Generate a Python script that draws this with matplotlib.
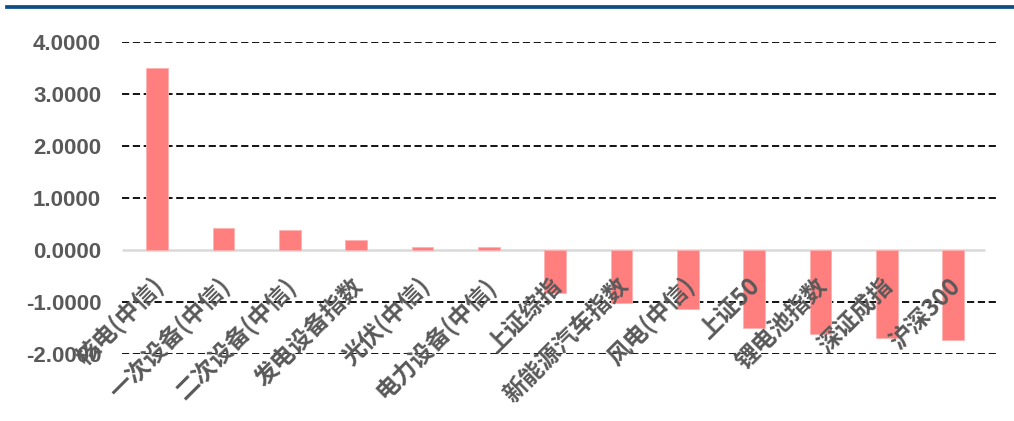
import matplotlib
matplotlib.use("Agg")
import matplotlib.pyplot as plt
import matplotlib.transforms as mtransforms
from matplotlib.lines import Line2D

categories = ["核电(中信)", "一次设备(中信)", "二次设备(中信)", "发电设备指数", "光伏(中信)",
              "电力设备(中信)", "上证综指", "新能源汽车指数", "风电(中信)", "上证50",
              "锂电池指数", "深证成指", "沪深300"]
values = [3.49, 0.42, 0.38, 0.20, 0.05, 0.05, -0.83, -1.02, -1.13, -1.50, -1.61, -1.69, -1.72]
yticks = [-2, -1, 0, 1, 2, 3, 4]

plt.rcParams['font.family'] = ['Noto Sans CJK SC', 'DejaVu Sans']
GRAY = "#595959"

fig = plt.figure(figsize=(10.14, 4.21), dpi=100)
ax = fig.add_axes([122/1014, 1 - 354.3/421, 875/1014, 312.6/421])

x = list(range(len(categories)))
ax.bar(x, values, width=0.33, color="#FF7F7F", edgecolor="#FFB3B3", linewidth=0.6, zorder=3)

ax.set_xlim(-0.53, 12.66)
ax.set_ylim(-2, 4)
ax.set_yticks(yticks)
ax.set_yticklabels([f"{v:.4f}" for v in yticks], fontfamily="Liberation Sans",
                   fontweight="bold", fontsize=16, color=GRAY)
ax.tick_params(axis='y', length=0, pad=15)
ax.set_xticks([])
for s in ax.spines.values():
    s.set_visible(False)

for v in yticks:
    if v != 0:
        ax.axhline(v, color="black", linestyle=(0, (4, 2)), linewidth=1.3, zorder=1)
ax.hlines(0, -0.53, 12.48, color="#D9D9D9", linewidth=1.8, zorder=2)

offset = mtransforms.ScaledTranslation(3/100, -32/100, fig.dpi_scale_trans)
for i, lab in enumerate(categories):
    ax.text(i, 0, lab, rotation=45, ha="right", va="center", rotation_mode="anchor",
            fontsize=17, fontweight="bold", color=GRAY,
            transform=ax.transData + offset, zorder=5, clip_on=False)

fig.add_artist(Line2D([7/1014, 1], [1 - 7/421, 1 - 7/421], color="#0E4D84",
                      linewidth=2.7, transform=fig.transFigure))

fig.savefig("out.png", dpi=100)
